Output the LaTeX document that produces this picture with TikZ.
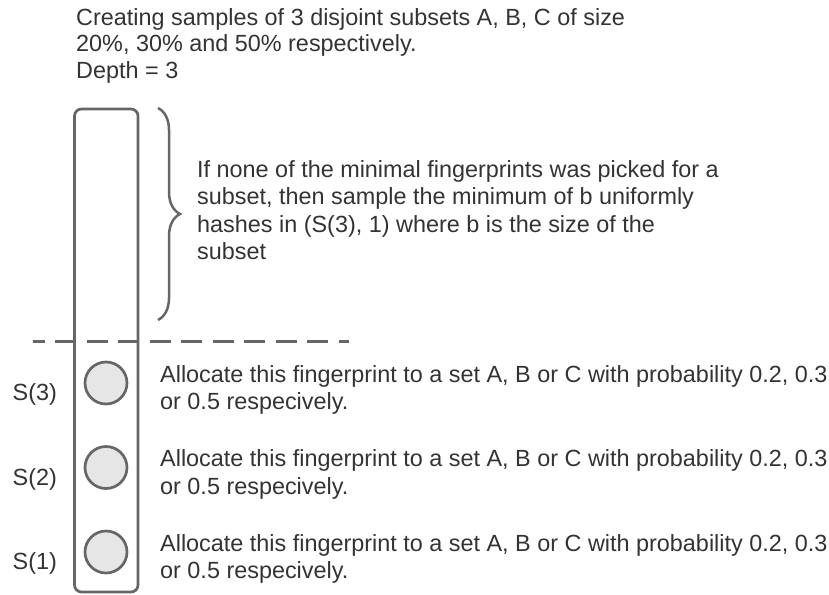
\documentclass[tikz,border=0pt]{standalone}
\usepackage{fontspec}
\setmainfont{Liberation Sans}
\usetikzlibrary{decorations.pathreplacing}
\definecolor{linegray}{HTML}{666666}
\definecolor{txtgray}{HTML}{333333}
\definecolor{dotfill}{HTML}{E6E6E6}

\begin{document}
\begin{tikzpicture}[x=1pt, y=-1pt,
  lbl/.style={font=\fontsize{23.4}{27.6}\selectfont, text=txtgray, inner sep=0pt, anchor=base west, align=left},
  fp/.style={circle, draw=linegray, fill=dotfill, line width=2.7pt, minimum size=42pt, inner sep=0pt}]
  \useasboundingbox (0,0) rectangle (829,594);
  % header (placed by its last baseline)
  \node[lbl, font=\fontsize{23.4}{26.3}\selectfont] (title) at (76,78.1)
        {Creating samples of 3 disjoint subsets A, B, C of size\\20\%, 30\% and 50\% respectively.\\Depth = 3};
  % the column of hashes
  \node[draw=linegray, line width=2.7pt, rounded corners=7pt, minimum width=63.5pt, minimum height=483pt, inner sep=0pt] (column) at (106.25,350.5) {};
  % brace over the empty part
  \coordinate (braceTop) at (158,108);
  \coordinate (braceBot) at (158,320);
  \draw[linegray, line width=2.5pt, decorate, decoration={brace, amplitude=22pt}] (braceTop) -- (braceBot);
  \node[lbl] (note) at (197,259.8)
        {If none of the minimal fingerprints was picked for a\\subset, then sample the minimum of b uniformly\\hashes in (S(3), 1) where b is the size of the\\subset};
  % depth cut
  \coordinate (cutL) at (32.5,341.7);
  \coordinate (cutR) at (349,341.7);
  \draw[linegray, line width=2.6pt, dash pattern=on 21pt off 10.5pt, dash phase=9pt] (cutL) -- (cutR);
  % minimal fingerprints
  \node[fp] (s3) at (106,383) {};
  \node[fp] (s2) at (106,467.5) {};
  \node[fp] (s1) at (106,552) {};
  \node[lbl] (s3lbl) at (12.5,400.5) {S(3)};
  \node[lbl] (s2lbl) at (12.5,485) {S(2)};
  \node[lbl] (s1lbl) at (12.5,569.5) {S(1)};
  \node[lbl] (alloc3) at (160,409.6)
        {Allocate this fingerprint to a set A, B or C with probability 0.2, 0.3\\or 0.5 respecively.};
  \node[lbl] (alloc2) at (160,494.1)
        {Allocate this fingerprint to a set A, B or C with probability 0.2, 0.3\\or 0.5 respecively.};
  \node[lbl] (alloc1) at (160,578.6)
        {Allocate this fingerprint to a set A, B or C with probability 0.2, 0.3\\or 0.5 respecively.};
\end{tikzpicture}
\end{document}
